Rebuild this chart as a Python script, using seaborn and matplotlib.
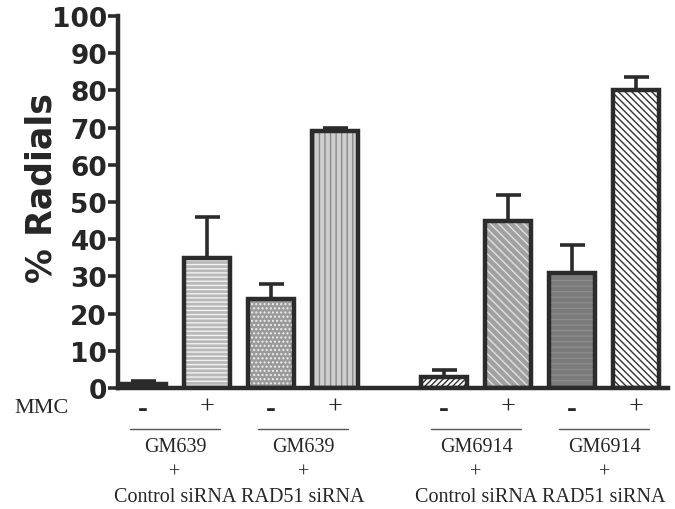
import matplotlib
matplotlib.use('Agg')
import matplotlib.pyplot as plt
import seaborn as sns
import pandas as pd
import numpy as np
from matplotlib.patches import Rectangle

# data
positions = [0, 1, 2, 3, 4.7, 5.7, 6.7, 7.7]
mmc = ['-', '+', '-', '+', '-', '+', '-', '+']
radials = [1, 35, 24, 69, 3, 45, 31, 80]
err_upper = [1, 11, 4, 1, 2, 7, 7.5, 3.5]
cell_lines = ['GM639', 'GM639', 'GM6914', 'GM6914']
sirna = ['Control siRNA', 'RAD51 siRNA', 'Control siRNA', 'RAD51 siRNA']
yticks = [0, 10, 20, 30, 40, 50, 60, 70, 80, 90, 100]

fills = ['#5a5a5a', '#b8b8b8', '#9a9a9a', '#cfcfcf', '#ffffff', '#a0a0a0', '#7a7a7a', '#ffffff']
hatches = ['', '----', '....', '|||', '//////', '\\\\\\\\', '---', '\\\\\\\\\\']
hatch_cols = ['#5a5a5a', '#f2f2f2', '#eeeeee', '#8a8a8a', '#333333', '#e0e0e0', '#8c8c8c', '#333333']

sns.set_style('ticks')
plt.rcParams['hatch.linewidth'] = 1.0
dark = '#2b2b2b'

df = pd.DataFrame({'pos': positions, 'radials': radials, 'bar': range(len(positions))})

fig = plt.figure(figsize=(6.75, 5.1), dpi=100)
ax = fig.add_axes([0.175, 0.237, 0.815, 0.730])

sns.barplot(data=df, x='pos', y='radials', hue='bar', palette=fills, native_scale=True,
            width=0.72, legend=False, ax=ax, linewidth=0, errorbar=None)

# hatch drawn in its own colour, then a dark outline on top
for p, h, hc in zip(ax.patches, hatches, hatch_cols):
    p.set_hatch(h)
    p.set_edgecolor(hc)
    p.set_linewidth(0)
    ax.add_patch(Rectangle(p.get_xy(), p.get_width(), p.get_height(), fill=False,
                           ec=dark, lw=3.2, zorder=3))

ax.errorbar(positions, radials, yerr=[np.zeros(len(radials)), err_upper], fmt='none',
            ecolor=dark, elinewidth=2.6, capsize=9, capthick=2.6, zorder=2)

ax.set_ylim(0, 100)
ax.set_xlim(-0.39, 8.2)
ax.set_yticks(yticks)
ax.set_yticklabels([str(t) for t in yticks], fontsize=19, fontweight='bold', family='DejaVu Sans')
ax.set_ylabel('% Radials', fontsize=25, fontweight='bold', family='DejaVu Sans')
ax.yaxis.set_label_coords(-0.108, 0.54)
ax.set_xlabel('')
for s in ['top', 'right']:
    ax.spines[s].set_visible(False)
for s in ['left', 'bottom']:
    ax.spines[s].set_linewidth(3.2)
    ax.spines[s].set_color(dark)
ax.tick_params(axis='y', length=7, width=2.6, color=dark, pad=1)

ax.set_xticks(positions)
ax.set_xticklabels(mmc, fontsize=19, family='Liberation Serif')
ax.tick_params(axis='x', length=0, pad=5)
for lab in ax.get_xticklabels():
    if lab.get_text() == '-':
        lab.set_fontweight('bold')
        lab.set_fontsize(21)

tr = ax.get_xaxis_transform()
ax.text(-0.09, -0.052, 'MMC', transform=ax.transAxes, ha='right', va='center',
        fontsize=16, family='Liberation Serif')
for i in range(4):
    x0, x1 = positions[2 * i], positions[2 * i + 1]
    ax.plot([x0 - 0.2, x1 + 0.2], [-0.11, -0.11], transform=tr, clip_on=False, color='#555555', lw=1)
    xc = (x0 + x1) / 2
    ax.text(xc, -0.158, cell_lines[i], transform=tr, ha='center', va='center', fontsize=14.5, family='Liberation Serif')
    ax.text(xc, -0.225, '+', transform=tr, ha='center', va='center', fontsize=14.5, family='Liberation Serif')
    ax.text(xc, -0.29, sirna[i], transform=tr, ha='center', va='center', fontsize=14.5, family='Liberation Serif')

fig.savefig('out.png', dpi=100)
